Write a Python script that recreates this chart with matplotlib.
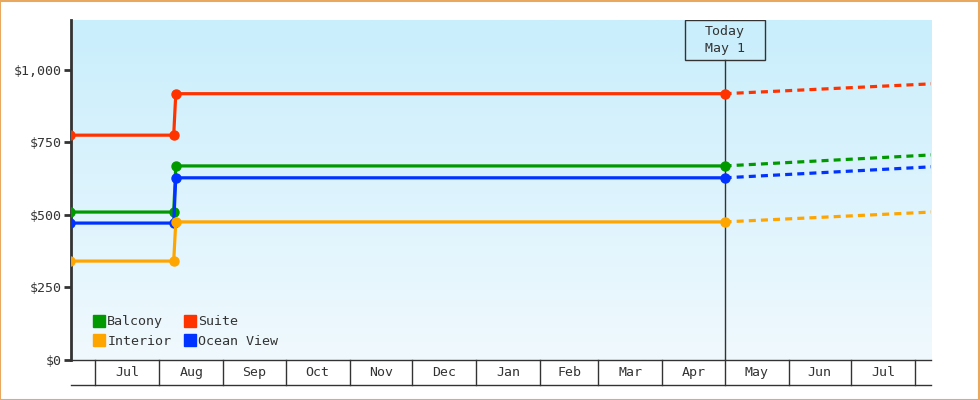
import numpy as np
import matplotlib
matplotlib.use("Agg")
import matplotlib.pyplot as plt
import matplotlib.dates as mdates
import matplotlib.transforms as mtransforms
from matplotlib.patches import Rectangle
from matplotlib.lines import Line2D
import datetime as dt

# ---- data ----
categories = ["Balcony", "Interior", "Suite", "Ocean View"]
colors = {"Balcony": "#009900", "Interior": "#ffa500", "Suite": "#ff3300", "Ocean View": "#0033ff"}
hist_dates = ["2022-06-19", "2022-08-08", "2022-08-09", "2023-05-01"]
hist_values = {
    "Balcony":    [510, 510, 669, 669],
    "Interior":   [341, 341, 476, 476],
    "Suite":      [775, 775, 918, 918],
    "Ocean View": [472, 472, 628, 628],
}
proj_dates = ["2023-05-01", "2023-08-09"]
proj_values = {
    "Balcony":    [669, 707],
    "Interior":   [476, 510],
    "Suite":      [918, 952],
    "Ocean View": [628, 666],
}
y_ticks = [0, 250, 500, 750, 1000]
y_tick_labels = ["$0", "$250", "$500", "$750", "$1,000"]
month_labels = ["Jul", "Aug", "Sep", "Oct", "Nov", "Dec", "Jan", "Feb", "Mar", "Apr", "May", "Jun", "Jul"]
month_starts = ["2022-07-01", "2022-08-01", "2022-09-01", "2022-10-01", "2022-11-01", "2022-12-01",
                "2023-01-01", "2023-02-01", "2023-03-01", "2023-04-01", "2023-05-01", "2023-06-01",
                "2023-07-01", "2023-08-01"]
today = "2023-05-01"
today_label = "Today\nMay 1"

plt.rcParams["font.family"] = ["DejaVu Sans Mono"]
TXT = "#333333"

def d2n(s):
    return mdates.date2num(dt.datetime.strptime(s, "%Y-%m-%d"))

W, H = 980, 400
fig = plt.figure(figsize=(W / 100, H / 100), dpi=100)
L, R, T, B = 71, 931, 20, 360
ax = fig.add_axes([L / W, 1 - B / H, (R - L) / W, (B - T) / H])

x0 = d2n("2022-06-19") + 0.4
x1 = d2n("2023-08-08") + 0.7
ax.set_xlim(x0, x1)
ax.set_ylim(0, 1172)

# gradient background
grad = np.linspace(0, 1, 256).reshape(-1, 1)
top = np.array([0xc9, 0xee, 0xfc]) / 255
bot = np.array([0xf0, 0xf9, 0xfe]) / 255
img = top[None, None, :] * (1 - grad[:, :, None]) + bot[None, None, :] * grad[:, :, None]
ax.imshow(img, extent=[0, 1, 0, 1], transform=ax.transAxes, aspect="auto", zorder=0)

hx = [d2n(s) for s in hist_dates]
px = [d2n(s) for s in proj_dates]
for c in ["Suite", "Balcony", "Ocean View", "Interior"]:
    ax.plot(hx, hist_values[c], color=colors[c], lw=2.3, marker="o", ms=6.5, zorder=3, clip_on=True)
    ax.plot(px, proj_values[c], color=colors[c], lw=2.3, ls=(0, (2.2, 1.6)), zorder=3)

# today line and box
tx = d2n(today)
blend = mtransforms.blended_transform_factory(ax.transData, ax.transAxes)
box_h = 40 / (B - T)
ax.plot([tx, tx], [0, 1 - box_h], color=TXT, lw=1, transform=blend, zorder=2)
box_w_days = 80 / ((R - L) / (x1 - x0))
ax.add_patch(Rectangle((tx - box_w_days / 2, 1 - box_h), box_w_days, box_h, transform=blend,
                       fc="none", ec=TXT, lw=1, zorder=4))
ax.text(tx, 1 - box_h / 2, today_label, transform=blend, ha="center", va="center",
        fontsize=9.5, color=TXT, linespacing=1.35, zorder=5)

# y axis
ax.set_yticks(y_ticks)
ax.set_yticklabels(y_tick_labels)
ax.tick_params(axis="y", direction="out", length=5, width=2, color=TXT, labelcolor=TXT, labelsize=9.5, pad=2)
ax.set_xticks([])
for s in ["top", "right"]:
    ax.spines[s].set_visible(False)
ax.spines["left"].set_color(TXT)
ax.spines["left"].set_linewidth(2)
ax.spines["bottom"].set_color(TXT)
ax.spines["bottom"].set_linewidth(1)

# month band below
band = 25 / (B - T)
ms = [d2n(s) for s in month_starts]
for m in ms:
    ax.plot([m, m], [0, -band], color=TXT, lw=1, transform=blend, clip_on=False)
ax.plot([0, 1], [-band, -band], color=TXT, lw=1, transform=ax.transAxes, clip_on=False)
for i, lab in enumerate(month_labels):
    ax.text((ms[i] + ms[i + 1]) / 2, -band / 2, lab, transform=blend, ha="center", va="center",
            fontsize=9.5, color=TXT)

# legend
handles = [Line2D([], [], marker="s", ls="none", color=colors[c], ms=8) for c in categories]
leg = ax.legend(handles, categories, ncol=2, loc="lower left", frameon=False,
                bbox_to_anchor=(23 / (R - L), 12 / (B - T)), borderaxespad=0, borderpad=0,
                handlelength=0.8, handletextpad=0.2, columnspacing=1.0, labelspacing=0.5,
                fontsize=9.6, labelcolor=TXT)

fig.patches.append(Rectangle((0.0005, 0.001), 0.998, 0.997, transform=fig.transFigure,
                             fill=False, ec="#e8a860", lw=1.5))
fig.savefig("out.png", dpi=100)
